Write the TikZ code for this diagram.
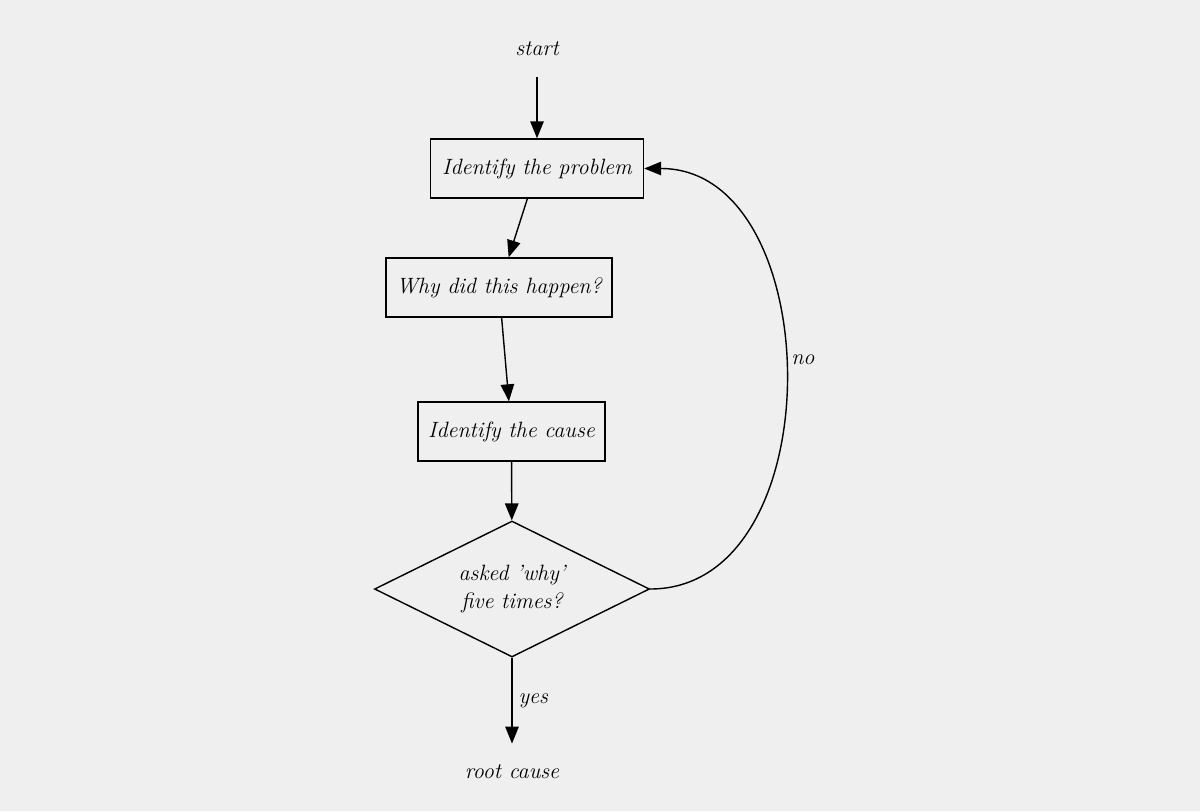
\documentclass[tikz,border=0pt]{standalone}
\usepackage{xcolor}
\usepackage{tikz}
\usetikzlibrary{shapes,arrows.meta,positioning}
\definecolor{paper}{RGB}{239,239,239}

\begin{document}
\begin{tikzpicture}[
    box/.style={draw, line width=0.8pt, rectangle, minimum height=1.18cm, inner sep=0pt},
    decision/.style={draw, line width=0.8pt, diamond, aspect=2, minimum width=5.5cm, minimum height=2.72cm, inner sep=0pt, align=center},
    terminal/.style={inner xsep=2pt, inner ysep=12pt},
    flow/.style={line width=0.8pt, -{Triangle[length=0.34cm,width=0.27cm]}},
    font=\fontsize{12.6}{15.5}\selectfont\itshape
]
% Background
\fill[paper] (0,0) rectangle (24,-16.22);
\useasboundingbox (0,0) rectangle (24,-16.22);
% Draw the steps
\node[terminal] (start) at (10.74,-0.98) {start};
\node[box, minimum width=4.26cm] (problem) at (10.74,-3.37) {Identify the problem};
\node[box, minimum width=4.52cm] (why) at (9.98,-5.75) {Why did this happen?};
\node[box, minimum width=3.74cm] (cause) at (10.23,-8.63) {Identify the cause};
\node[decision] (five) at (10.24,-11.78) {asked 'why'\\five times?};
\node[terminal] (root) at (10.24,-15.44) {root cause};
% Connect them
\draw[flow] (start) -- (problem);
\draw[flow] (problem) -- (why);
\draw[flow] (why) -- (cause);
\draw[flow] (cause) -- (five);
\draw[flow] (five) -- node[right] {yes} (root);
\draw[flow] (five.east) to[out=0, in=0, looseness=1.12] node[right, pos=0.53] {no} (problem.east);
\end{tikzpicture}
\end{document}
